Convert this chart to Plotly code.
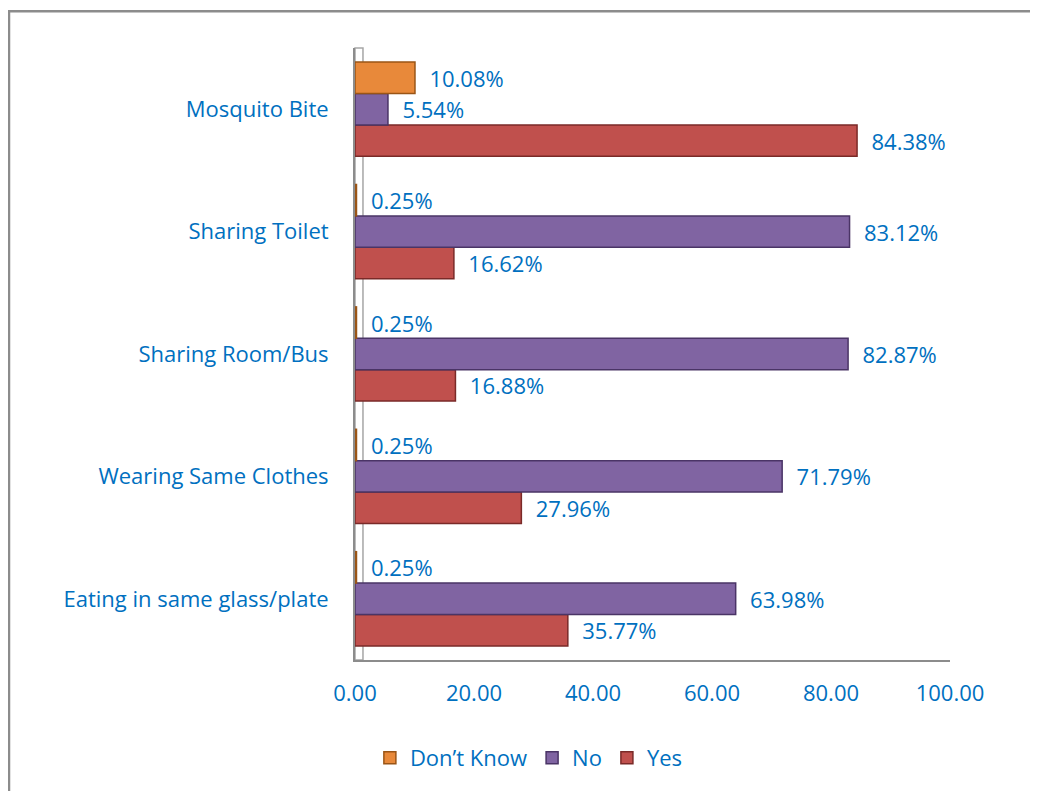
import plotly.graph_objects as go

categories = ['Eating in same glass/plate', 'Wearing Same Clothes', 'Sharing Room/Bus',
              'Sharing Toilet', 'Mosquito Bite']
yes = [35.77, 27.96, 16.88, 16.62, 84.38]
no = [63.98, 71.79, 82.87, 83.12, 5.54]
dont_know = [0.25, 0.25, 0.25, 0.25, 10.08]
x_ticks = [0, 20, 40, 60, 80, 100]

blue = '#0070C0'
font_name = 'Open Sans'
fsize = 22

fig = go.Figure()
# first trace sits lowest in each group
for name, vals, col, edge in [('Yes', yes, '#C0504D', '#7A2A28'),
                              ('No', no, '#8064A2', '#4A3466'),
                              ('Don’t Know', dont_know, '#E8893A', '#9A5516')]:
  fig.add_trace(go.Bar(y=categories, x=vals, name=name, orientation='h',
                       marker=dict(color=col, line=dict(color=edge, width=1.5)),
                       text=[f'  {v:.2f}%' for v in vals], textposition='outside',
                       textfont=dict(color=blue, size=fsize, family=font_name),
                       cliponaxis=False))

# page has an 8px body margin on every side, keep the figure inside the window
fig.update_layout(width=1022, height=783,
                  margin=dict(l=347, r=80, t=40, b=125),
                  plot_bgcolor='white', paper_bgcolor='white',
                  barmode='group', bargap=0.23, bargroupgap=0,
                  font=dict(family=font_name, color=blue, size=fsize),
                  showlegend=True,
                  legend=dict(orientation='h', x=0.025, xanchor='left', y=-0.16,
                              yanchor='middle', traceorder='reversed',
                              font=dict(size=fsize, color=blue, family=font_name),
                              itemwidth=30),
                  xaxis=dict(range=[0, 100], tickvals=x_ticks, tickformat='.2f',
                             showgrid=False, zeroline=False, showline=True,
                             linecolor='#8C8C8C', linewidth=2, ticks='',
                             ticklabelstandoff=13,
                             tickfont=dict(size=fsize, color=blue)),
                  yaxis=dict(showgrid=False, zeroline=False, showline=True,
                             linecolor='#8C8C8C', linewidth=2, ticks='',
                             ticklabelstandoff=20,
                             tickfont=dict(size=fsize, color=blue)),
                  shapes=[dict(type='rect', xref='paper', yref='paper',
                               x0=-0.5815, x1=3, y0=-3, y1=1.06,
                               line=dict(color='#8C8C8C', width=2.5),
                               fillcolor='rgba(0,0,0,0)', layer='below'),
                          # thin side wall next to the value axis
                          dict(type='rect', xref='paper', yref='paper',
                               x0=0, x1=0.0134, y0=0, y1=1,
                               line=dict(color='#A6A6A6', width=1.5),
                               fillcolor='rgba(0,0,0,0)', layer='below')])

fig.write_html("out.html")
